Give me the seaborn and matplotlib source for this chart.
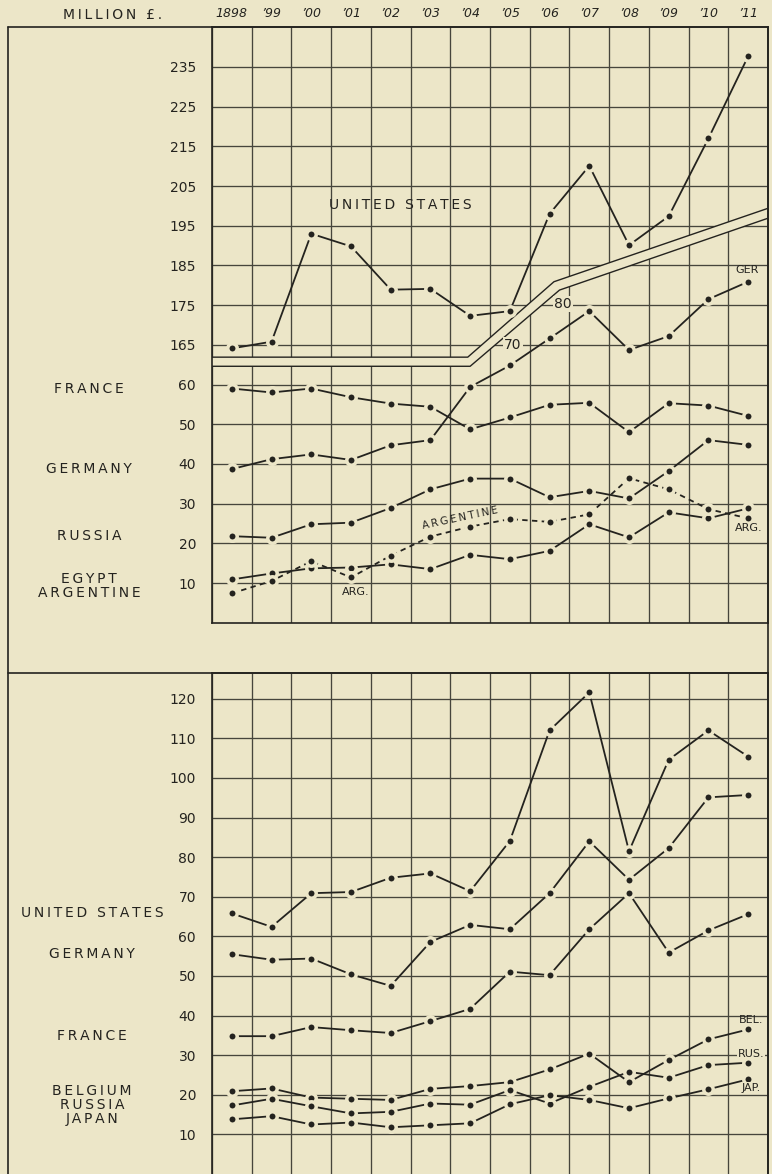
import numpy as np
import pandas as pd
import matplotlib
matplotlib.use("Agg")
import matplotlib.pyplot as plt
from matplotlib.lines import Line2D
from matplotlib.transforms import blended_transform_factory
import seaborn as sns

# ---------------- data ----------------
years = ['1898', '’99', '’00', '’01', '’02', '’03', '’04', '’05',
         '’06', '’07', '’08', '’09', '’10', '’11']

# upper chart (million £)
us_upper = [164.1, 165.8, 193.0, 189.8, 178.9, 179.1, 172.3, 173.5,
            198.0, 210.1, 190.1, 197.4, 217.0, 237.7]
germany_upper = [38.7, 41.2, 42.4, 41.0, 44.7, 46.0, 59.4, 64.8,
                 71.6, 78.5, 68.7, 72.2, 81.5, 85.9]
france_upper = [59.0, 58.0, 59.0, 56.8, 55.2, 54.4, 48.7, 51.7,
                54.9, 55.4, 48.0, 55.3, 54.7, 52.1]
russia_upper = [21.8, 21.4, 24.8, 25.2, 28.9, 33.6, 36.3, 36.3,
                31.6, 33.2, 31.3, 38.2, 46.0, 44.8]
egypt_upper = [10.9, 12.4, 13.7, 13.9, 14.7, 13.5, 17.1, 16.0,
               18.1, 24.8, 21.5, 27.8, 26.3, 28.8]
argentine_upper = [7.4, 10.5, 15.5, 11.4, 16.9, 21.7, 24.2, 26.1,
                   25.4, 27.3, 36.4, 33.6, 28.6, 26.3]

# lower chart (million £)
us_lower = [65.8, 62.4, 70.9, 71.2, 74.8, 75.9, 71.4, 84.1,
            112.0, 121.6, 81.5, 104.6, 112.0, 105.4]
germany_lower = [55.5, 54.1, 54.4, 50.4, 47.5, 58.6, 62.9, 61.8,
                 70.9, 84.0, 74.3, 82.3, 95.1, 95.7]
france_lower = [34.8, 34.8, 37.1, 36.3, 35.6, 38.6, 41.7, 51.1,
                50.2, 61.8, 70.9, 55.9, 61.5, 65.6]
belgium_lower = [20.9, 21.6, 19.3, 19.0, 18.7, 21.5, 22.2, 23.2,
                 26.4, 30.4, 23.2, 28.8, 34.0, 36.5]
russia_lower = [17.3, 19.0, 17.1, 15.3, 15.7, 17.8, 17.5, 21.2,
                17.8, 22.0, 25.8, 24.3, 27.5, 28.1]
japan_lower = [13.8, 14.6, 12.5, 13.0, 11.8, 12.3, 12.8, 17.6,
               19.9, 18.7, 16.6, 19.1, 21.4, 23.9]

upper_ticks = [10, 20, 30, 40, 50, 60, 70, 80, 90, 100, 110, 120, 130, 140]
upper_tick_labels = ['10', '20', '30', '40', '50', '60',
                     '165', '175', '185', '195', '205', '215', '225', '235']
lower_ticks = [10, 20, 30, 40, 50, 60, 70, 80, 90, 100, 110, 120]
lower_tick_labels = ['10', '20', '30', '40', '50', '60',
                     '70', '80', '90', '100', '110', '120']
US_SCALE_SHIFT = 95   # US scale (165..) drawn on the same ruling as 70..

# ---------------- style ----------------
BG = '#ece6c8'
INK = '#24231f'
GRID = '#46453c'
W, H = 772, 1174

sns.set_theme(style='white')
plt.rcParams['font.family'] = ['DejaVu Sans']
plt.rcParams['text.color'] = INK


def spaced(s):
    return '\u2009'.join(s)


def fx(px):
    return px / W


def fy(py):
    return 1 - py / H


fig = plt.figure(figsize=(W / 100, H / 100), dpi=100, facecolor=BG)

ax_up = fig.add_axes([fx(212), fy(622.7), (768 - 212) / W, (622.7 - 27.3) / H])
ax_lo = fig.add_axes([fx(212), 0, (768 - 212) / W, (H - 673) / H])

for ax in (ax_up, ax_lo):
    ax.set_facecolor(BG)
    ax.set_xlim(-0.5, 13.5)
    ax.set_xticks(np.arange(-0.5, 14.0, 1.0), minor=True)
    ax.set_axisbelow(True)
    ax.xaxis.grid(True, which='minor', color=GRID, linewidth=0.95)
    ax.xaxis.grid(False, which='major')
    ax.yaxis.grid(True, which='major', color=GRID, linewidth=0.95)
    ax.tick_params(which='both', length=0)
    for s in ax.spines.values():
        s.set_color(INK)
        s.set_linewidth(1.2)

ax_up.set_ylim(0, 150)
ax_lo.set_ylim(0, 126.5)
ax_lo.spines['bottom'].set_visible(False)


def draw(ax, vals, dashed=False):
    df = pd.DataFrame({'x': np.arange(len(vals)), 'y': vals})
    sns.lineplot(data=df, x='x', y='y', ax=ax, color=INK, linewidth=1.3,
                 linestyle=(0, (3.0, 2.4)) if dashed else '-',
                 marker='o', markersize=6.8, markerfacecolor=INK,
                 markeredgecolor=BG, markeredgewidth=2.5,
                 sort=False, errorbar=None, zorder=3)


# scale-break band in the upper chart
band_x_up = [-0.5, 5.94, 8.11, 13.5]
band_y_up = [66.9, 66.9, 85.9, 104.4]
band_x_lo = [-0.5, 6.0, 8.25, 13.5]
band_y_lo = [64.6, 64.6, 83.8, 101.9]
poly_x = band_x_up + band_x_lo[::-1]
poly_y = band_y_up + band_y_lo[::-1]
ax_up.fill(poly_x, poly_y, color=BG, zorder=1.5, linewidth=0)
ax_up.plot(band_x_up, band_y_up, color=INK, linewidth=1.0, zorder=2)
ax_up.plot(band_x_lo, band_y_lo, color=INK, linewidth=1.0, zorder=2)

# upper chart series
draw(ax_up, [v - US_SCALE_SHIFT for v in us_upper])
draw(ax_up, germany_upper)
draw(ax_up, france_upper)
draw(ax_up, russia_upper)
draw(ax_up, egypt_upper)
draw(ax_up, argentine_upper, dashed=True)

# lower chart series
for series in (us_lower, germany_lower, france_lower,
               belgium_lower, russia_lower, japan_lower):
    draw(ax_lo, series)

# ticks
ax_up.set_yticks(upper_ticks, labels=upper_tick_labels)
ax_lo.set_yticks(lower_ticks, labels=lower_tick_labels)
for ax in (ax_up, ax_lo):
    ax.tick_params(axis='y', pad=11.5, labelsize=10, labelcolor=INK)
    ax.set_xlabel('')
    ax.set_ylabel('')

ax_up.set_xticks(np.arange(len(years)), labels=years)
ax_up.tick_params(axis='x', which='major', labeltop=True, labelbottom=False,
                  pad=5, labelsize=9, labelcolor=INK)
for t in ax_up.get_xticklabels():
    t.set_fontstyle('italic')
ax_lo.set_xticks(np.arange(len(years)), labels=[''] * len(years))
ax_lo.tick_params(axis='x', labelbottom=False)

# in-chart labels
lab = dict(color=INK, ha='center', va='center')
ax_up.text(4.25, 105.2, spaced('UNITED STATES'), fontsize=10, **lab)
ax_up.text(7.08, 70.0, '70', fontsize=10, zorder=4,
           bbox=dict(fc=BG, ec='none', pad=0.8), **lab)
ax_up.text(8.34, 80.2, '80', fontsize=10, zorder=4,
           bbox=dict(fc=BG, ec='none', pad=0.8), **lab)
ax_up.text(12.97, 88.9, 'GER', fontsize=8, **lab)
ax_up.text(5.74, 26.3, spaced('ARGENTINE'), fontsize=7.5, rotation=12,
           zorder=4, **lab)
ax_up.text(3.12, 7.7, 'ARG.', fontsize=8, **lab)
ax_up.text(13.02, 23.8, 'ARG.', fontsize=8, **lab)

ax_lo.text(13.07, 38.9, 'BEL.', fontsize=8, **lab)
ax_lo.text(13.07, 30.4, 'RUS.', fontsize=8, zorder=4,
           bbox=dict(fc=BG, ec='none', pad=0.6), **lab)
ax_lo.text(13.07, 21.8, 'JAP.', fontsize=8, zorder=4,
           bbox=dict(fc=BG, ec='none', pad=0.6), **lab)

# country names in the left margin, at each series' first value
tr_up = blended_transform_factory(fig.transFigure, ax_up.transData)
for name, vals in (('FRANCE', france_upper), ('GERMANY', germany_upper),
                   ('RUSSIA', russia_upper), ('EGYPT', egypt_upper),
                   ('ARGENTINE', argentine_upper)):
    ax_up.text(fx(89), vals[0], spaced(name), transform=tr_up,
               fontsize=10, clip_on=False, **lab)

tr_lo = blended_transform_factory(fig.transFigure, ax_lo.transData)
for name, vals in (('UNITED STATES', us_lower), ('GERMANY', germany_lower),
                   ('FRANCE', france_lower), ('BELGIUM', belgium_lower),
                   ('RUSSIA', russia_lower), ('JAPAN', japan_lower)):
    ax_lo.text(fx(92), vals[0], spaced(name), transform=tr_lo,
               fontsize=10, clip_on=False, **lab)

# header
fig.text(fx(113), fy(15), spaced('MILLION £.'), fontsize=10, **lab)

# outer frame
for (x0, y0, x1, y1) in ((8, 27.3, 768, 27.3), (8, 27.3, 8, H),
                         (768, 27.3, 768, H), (8, 673, 768, 673)):
    fig.add_artist(Line2D([fx(x0), fx(x1)], [fy(y0), fy(y1)],
                          transform=fig.transFigure, color=INK, linewidth=1.2))

fig.savefig('out.png', dpi=100, facecolor=BG)
